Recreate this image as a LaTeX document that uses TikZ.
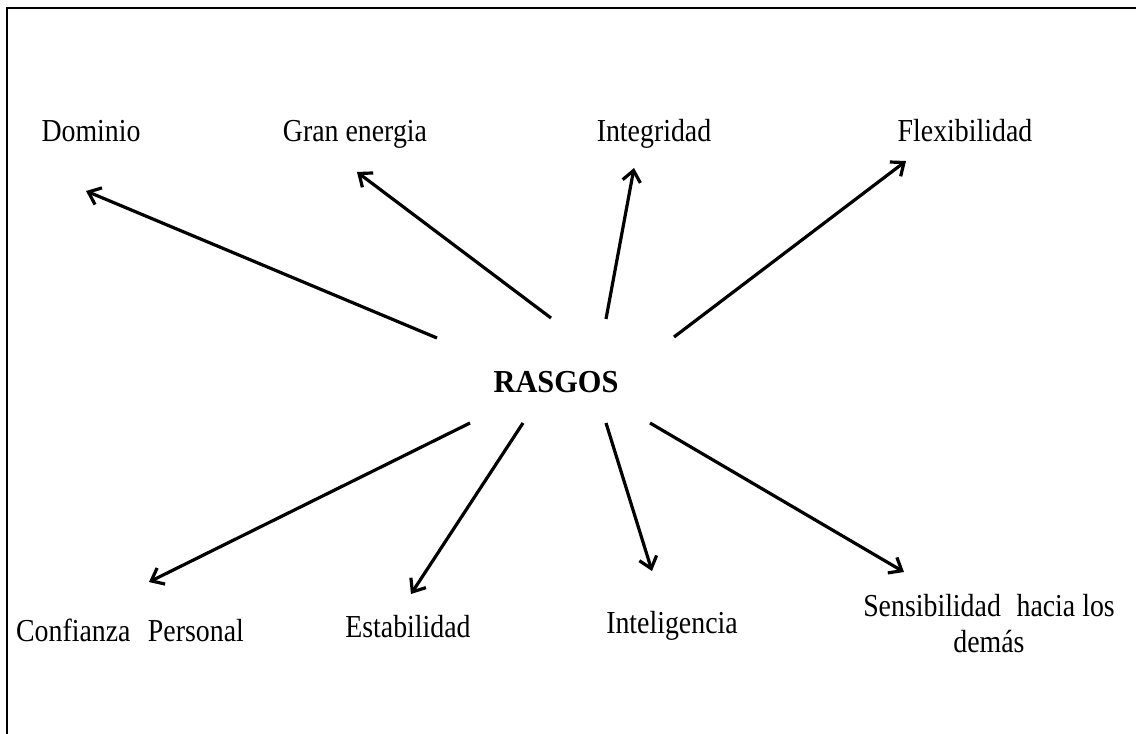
\documentclass[tikz,border=0pt]{standalone}
\usepackage{fontspec}
\setmainfont{Liberation Serif}
\usetikzlibrary{arrows.meta}
\begin{document}
\begin{tikzpicture}[x=1pt,y=-1pt,
  lbl/.style={anchor=base,inner sep=0pt,font=\fontsize{32}{36}\selectfont,xscale=0.87,transform shape,align=center},
  arr/.style={line width=3.2pt,-{Straight Barb[length=11pt,width=18pt,line width=3.2pt]}},
  frame/.style={line width=2.6pt}]
\useasboundingbox (0,0) rectangle (1136,734);
\draw[frame] (7,734) -- (7,8) -- (1136,8);
% labels
\node[lbl] (dom) at (91,141) {Dominio};
\node[lbl] (gran) at (355,141) {Gran energia};
\node[lbl] (integ) at (654,141) {Integridad};
\node[lbl] (flex) at (965,141) {Flexibilidad};
\node[lbl,font=\fontsize{32}{36}\selectfont\bfseries,xscale=1.09] (ras) at (556,392) {RASGOS};
\node[lbl] (conf) at (130,641) {Confianza\hspace{20pt}Personal};
\node[lbl] (estab) at (408,637) {Estabilidad};
\node[lbl] (intel) at (672,633) {Inteligencia};
\node[lbl] (sens) at (989,652) {Sensibilidad\hspace{18pt}hacia los\\demás};
% connector ends
\coordinate (t1) at (437,338); \coordinate (h1) at (86,191);
\coordinate (t2) at (551,318); \coordinate (h2) at (357,172);
\coordinate (t3) at (606,319); \coordinate (h3) at (634,168);
\coordinate (t4) at (674,337); \coordinate (h4) at (906,161);
\coordinate (t5) at (470,423); \coordinate (h5) at (149,582);
\coordinate (t6) at (523,423); \coordinate (h6) at (411,594);
\coordinate (t7) at (606,423); \coordinate (h7) at (652,571);
\coordinate (t8) at (650,423); \coordinate (h8) at (904,572);
\draw[arr] (t1) -- (h1);
\draw[arr] (t2) -- (h2);
\draw[arr] (t3) -- (h3);
\draw[arr] (t4) -- (h4);
\draw[arr] (t5) -- (h5);
\draw[arr] (t6) -- (h6);
\draw[arr] (t7) -- (h7);
\draw[arr] (t8) -- (h8);
\end{tikzpicture}
\end{document}
